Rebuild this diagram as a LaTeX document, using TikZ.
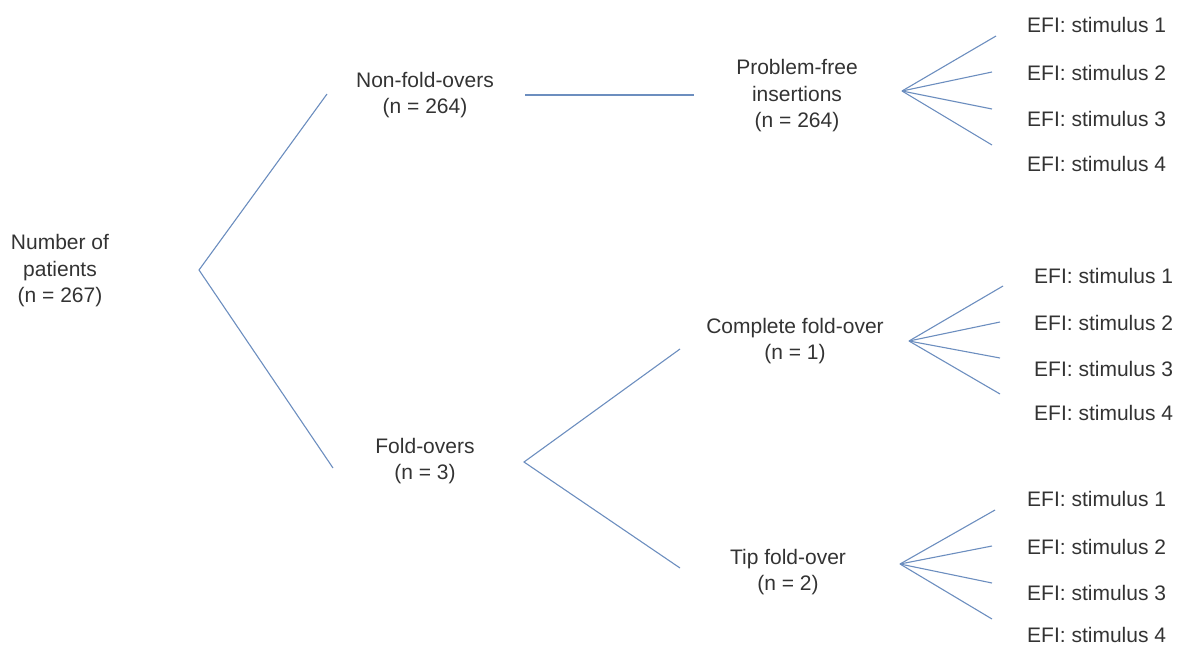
\documentclass[tikz,border=0pt]{standalone}
\usepackage{fontspec}
\setmainfont{Liberation Sans}
\begin{document}
\begin{tikzpicture}[x=1pt,y=-1pt,
  lbl/.style={text=txtgray,font=\fontsize{21}{26.5}\selectfont,align=center,inner sep=0pt},
  efi/.style={lbl,anchor=west},
  conn/.style={draw=lineblue,line width=1.1pt}]
\definecolor{lineblue}{HTML}{6C8EBF}
\definecolor{txtgray}{HTML}{333333}
\useasboundingbox (0,0) rectangle (1177,646);
% text nodes
\node[lbl] (root) at (60,271) {Number of\\patients\\(n = 267)};
\node[lbl] (nfo) at (425,95) {Non-fold-overs\\(n = 264)};
\node[lbl] (pfi) at (797,96) {Problem-free\\insertions\\(n = 264)};
\node[lbl] (fo) at (425,461) {Fold-overs\\(n = 3)};
\node[lbl] (cfo) at (795,341) {Complete fold-over\\(n = 1)};
\node[lbl] (tfo) at (788,572) {Tip fold-over\\(n = 2)};
\node[efi] (a1) at (1027,25) {EFI: stimulus 1};
\node[efi] (a2) at (1027,73) {EFI: stimulus 2};
\node[efi] (a3) at (1027,119) {EFI: stimulus 3};
\node[efi] (a4) at (1027,164) {EFI: stimulus 4};
\node[efi] (b1) at (1034,276) {EFI: stimulus 1};
\node[efi] (b2) at (1034,323) {EFI: stimulus 2};
\node[efi] (b3) at (1034,369) {EFI: stimulus 3};
\node[efi] (b4) at (1034,413) {EFI: stimulus 4};
\node[efi] (c1) at (1027,499) {EFI: stimulus 1};
\node[efi] (c2) at (1027,547) {EFI: stimulus 2};
\node[efi] (c3) at (1027,593) {EFI: stimulus 3};
\node[efi] (c4) at (1027,635) {EFI: stimulus 4};
% connector points
\coordinate (r0) at (199,270);
\coordinate (r1) at (327,94);
\coordinate (r2) at (333,468);
\coordinate (h0) at (525,95);
\coordinate (h1) at (694,95);
\coordinate (f0) at (524,462);
\coordinate (f1) at (680,349);
\coordinate (f2) at (680,568);
\coordinate (p0) at (902,91);
\coordinate (p1) at (996,36);
\coordinate (p2) at (992,72);
\coordinate (p3) at (992,109);
\coordinate (p4) at (992,145);
\coordinate (q0) at (909,341);
\coordinate (q1) at (1003,286);
\coordinate (q2) at (1000,322);
\coordinate (q3) at (1000,358);
\coordinate (q4) at (1000,394);
\coordinate (t0) at (900,564);
\coordinate (t1) at (995,510);
\coordinate (t2) at (992,546);
\coordinate (t3) at (992,583);
\coordinate (t4) at (992,619);
% connectors
\draw[conn] (r1) -- (r0) -- (r2);
\draw[conn] (h0) -- (h1);
\draw[conn] (f1) -- (f0) -- (f2);
\foreach \i in {1,2,3,4} {
  \draw[conn] (p0) -- (p\i);
  \draw[conn] (q0) -- (q\i);
  \draw[conn] (t0) -- (t\i);
}
\end{tikzpicture}
\end{document}
